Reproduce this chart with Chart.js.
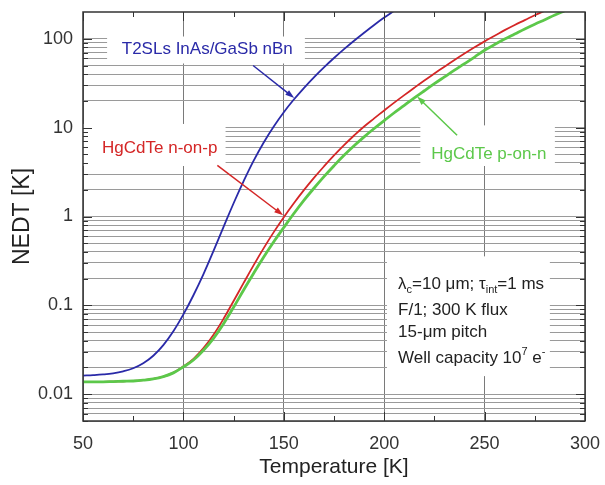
<!DOCTYPE html>
<html>
<head>
<meta charset="utf-8">
<script src="https://cdn.jsdelivr.net/npm/chart.js@4.4.1/dist/chart.umd.min.js"></script>
<style>
html, body { margin: 0; padding: 0; background: #fff; }
</style>
</head>
<body>
<canvas id="myChart" width="605" height="485"></canvas>
<script>
// temperature grid [K]
var temps = [50, 55, 60, 65, 70, 75, 80, 85, 90, 95,
             100, 105, 110, 115, 120, 125, 130, 135, 140, 145,
             150, 155, 160, 165, 170, 175, 180, 185, 190, 195,
             200, 205, 210, 215, 220, 225, 230, 235, 240, 245,
             250, 255, 260, 265, 270, 275, 280, 285, 290];

// NEDT [K]
var t2slNbn = [0.0162, 0.0164, 0.0167, 0.0172, 0.0181, 0.0196, 0.0223, 0.0271, 0.0357, 0.0511,
               0.0791, 0.130, 0.225, 0.410, 0.764, 1.41, 2.50, 4.25, 6.81, 10.3,
               14.9, 20.7, 27.9, 36.8, 47.6, 60.7, 76.4, 95.1, 117, 143,
               173, 207, 248, null, null, null, null, null, null, null,
               null, null, null, null, null, null, null, null, null];
var hgcdteNonP = [0.0138, 0.0138, 0.0138, 0.0139, 0.0140, 0.0141, 0.0144, 0.0149, 0.0158, 0.0175,
                  0.0206, 0.0250, 0.0330, 0.0467, 0.0706, 0.112, 0.179, 0.284, 0.441, 0.667,
                  0.982, 1.41, 1.98, 2.72, 3.66, 4.86, 6.35, 8.15, 10.3, 12.7,
                  15.6, 19.1, 23.2, 28.1, 33.9, 40.6, 48.5, 57.7, 68.2, 80.2,
                  93.5, 108, 125, 143, 162, 184, 207, 232, null];
var hgcdtePonN = [0.0138, 0.0138, 0.0138, 0.0139, 0.0140, 0.0141, 0.0144, 0.0149, 0.0158, 0.0174,
                  0.0203, 0.0243, 0.0313, 0.0426, 0.0622, 0.0953, 0.149, 0.230, 0.350, 0.520,
                  0.753, 1.08, 1.52, 2.08, 2.81, 3.73, 4.88, 6.25, 7.87, 9.77,
                  12.0, 14.7, 17.8, 21.6, 26.0, 31.2, 37.2, 44.3, 52.4, 62.2,
                  74.3, 86.1, 99.1, 113, 129, 146, 164, 185, 207];

// ticks
var xTicks = [50, 100, 150, 200, 250, 300];
var xMinorTicks = [75, 125, 175, 225, 275];
var yMajor = [0.01, 0.1, 1, 10, 100];
var yLabels = ['0.01', '0.1', '1', '10', '100'];
var yMinor = [0.005, 0.006, 0.007, 0.008, 0.009,
              0.02, 0.03, 0.04, 0.05, 0.06, 0.07, 0.08, 0.09,
              0.2, 0.3, 0.4, 0.5, 0.6, 0.7, 0.8, 0.9,
              2, 3, 4, 5, 6, 7, 8, 9,
              20, 30, 40, 50, 60, 70, 80, 90];

var BLUE = '#2a2aa8';
var RED = '#d42626';
var GREEN = '#5cc84a';
var INK = '#333';
var FONT = '"Liberation Sans", Arial, sans-serif';

// white boxes behind the texts (data units)
var boxes = [
    {x0: 62, x1: 160.5, y0: 52.7, y1: 106},
    {x0: 50, x1: 121, y0: 3.7, y1: 11},
    {x0: 218, x1: 285, y0: 3.7, y1: 10.6},
    {x0: 201.4, x1: 282.5, y0: 0.016, y1: 0.356}
];
var curveLabels = [
    {text: 'T2SLs InAs/GaSb nBn', color: BLUE, x: 111.9, y: 75.8, from: [134.7, 50], to: [155.2, 21.5]},
    {text: 'HgCdTe n-on-p', color: RED, x: 88.2, y: 5.83, from: [116.9, 3.76], to: [149.7, 1.03]},
    {text: 'HgCdTe p-on-n', color: GREEN, x: 252.1, y: 4.99, from: [236.3, 8.2], to: [216.4, 22.4]}
];
var noteX = 206.9;
var noteRows = [0.177, 0.0902, 0.051, 0.026];
var noteLines = [
    [['λ', ''], ['c', 'sub'], ['=10 μm; τ', ''], ['int', 'sub'], ['=1 ms', '']],
    [['F/1; 300 K flux', '']],
    [['15-μm pitch', '']],
    [['Well capacity 10', ''], ['7', 'sup'], [' e', ''], ['-', 'sup']]
];

function pts(vals) {
    var out = [];
    for (var i = 0; i < temps.length; i++) {
        if (vals[i] !== null) out.push({x: temps[i], y: vals[i]});
    }
    return out;
}

function drawArrow(ctx, x1, y1, x2, y2, color) {
    var a = Math.atan2(y2 - y1, x2 - x1);
    ctx.strokeStyle = color;
    ctx.fillStyle = color;
    ctx.lineWidth = 1.5;
    ctx.beginPath();
    ctx.moveTo(x1, y1);
    ctx.lineTo(x2 - 6 * Math.cos(a), y2 - 6 * Math.sin(a));
    ctx.stroke();
    ctx.beginPath();
    ctx.moveTo(x2, y2);
    ctx.lineTo(x2 - 9 * Math.cos(a) + 3 * Math.sin(a), y2 - 9 * Math.sin(a) - 3 * Math.cos(a));
    ctx.lineTo(x2 - 9 * Math.cos(a) - 3 * Math.sin(a), y2 - 9 * Math.sin(a) + 3 * Math.cos(a));
    ctx.closePath();
    ctx.fill();
}

var decorPlugin = {
    id: 'decor',
    beforeDatasetsDraw: function(chart) {
        var ctx = chart.ctx, xs = chart.scales.x, ys = chart.scales.y;
        ctx.save();
        ctx.fillStyle = '#fff';
        boxes.forEach(function(b) {
            var l = xs.getPixelForValue(b.x0), r = xs.getPixelForValue(b.x1);
            var t = ys.getPixelForValue(b.y1), btm = ys.getPixelForValue(b.y0);
            ctx.fillRect(l, t, r - l, btm - t);
        });
        ctx.restore();
    },
    afterDatasetsDraw: function(chart) {
        var ctx = chart.ctx, xs = chart.scales.x, ys = chart.scales.y, a = chart.chartArea;
        ctx.save();
        // inward ticks
        ctx.strokeStyle = INK;
        ctx.lineWidth = 1;
        ctx.beginPath();
        yMajor.concat(yMinor).forEach(function(v) {
            var y = Math.round(ys.getPixelForValue(v)) + 0.5;
            var len = yMajor.indexOf(v) >= 0 ? 9 : 5;
            ctx.moveTo(a.left, y); ctx.lineTo(a.left + len, y);
            ctx.moveTo(a.right, y); ctx.lineTo(a.right - len, y);
        });
        xTicks.concat(xMinorTicks).forEach(function(v) {
            var x = Math.round(xs.getPixelForValue(v)) + 0.5;
            var len = xTicks.indexOf(v) >= 0 ? 9 : 5;
            ctx.moveTo(x, a.top); ctx.lineTo(x, a.top + len);
            ctx.moveTo(x, a.bottom); ctx.lineTo(x, a.bottom - len);
        });
        ctx.stroke();
        // frame
        ctx.lineWidth = 1.5;
        ctx.strokeRect(a.left, a.top, a.right - a.left, a.bottom - a.top);

        // curve labels and arrows
        ctx.font = '17px ' + FONT;
        ctx.textAlign = 'center';
        ctx.textBaseline = 'middle';
        curveLabels.forEach(function(c) {
            ctx.fillStyle = c.color;
            ctx.fillText(c.text, xs.getPixelForValue(c.x), ys.getPixelForValue(c.y));
            drawArrow(ctx, xs.getPixelForValue(c.from[0]), ys.getPixelForValue(c.from[1]),
                      xs.getPixelForValue(c.to[0]), ys.getPixelForValue(c.to[1]), c.color);
        });

        // parameter note
        ctx.textAlign = 'left';
        ctx.textBaseline = 'alphabetic';
        ctx.fillStyle = '#222';
        noteLines.forEach(function(runs, i) {
            var x = xs.getPixelForValue(noteX);
            var y = ys.getPixelForValue(noteRows[i]) + 6;
            runs.forEach(function(r) {
                var dy = 0;
                if (r[1] === 'sub') { ctx.font = '11px ' + FONT; dy = 4; }
                else if (r[1] === 'sup') { ctx.font = '11px ' + FONT; dy = -8; }
                else { ctx.font = '17px ' + FONT; }
                ctx.fillText(r[0], x, y + dy);
                x += ctx.measureText(r[0]).width;
            });
        });
        ctx.restore();
    }
};

var ctx = document.getElementById('myChart').getContext('2d');
var myChart = new Chart(ctx, {
    type: 'line',
    data: {
        datasets: [{
            label: 'HgCdTe p-on-n',
            data: pts(hgcdtePonN),
            borderColor: GREEN,
            borderWidth: 2.8,
            order: 0
        }, {
            label: 'HgCdTe n-on-p',
            data: pts(hgcdteNonP),
            borderColor: RED,
            borderWidth: 1.8,
            order: 1
        }, {
            label: 'T2SLs InAs/GaSb nBn',
            data: pts(t2slNbn),
            borderColor: BLUE,
            borderWidth: 1.8,
            order: 2
        }]
    },
    options: {
        responsive: false,
        animation: false,
        layout: {padding: {left: 0, right: 20, top: 12, bottom: 0}},
        elements: {
            point: {radius: 0},
            line: {tension: 0.4, fill: false}
        },
        plugins: {legend: {display: false}, tooltip: {enabled: false}},
        scales: {
            x: {
                type: 'linear',
                min: 50,
                max: 300,
                afterBuildTicks: function(s) { s.ticks = xTicks.map(function(v) { return {value: v}; }); },
                afterFit: function(s) { s.height = 64; s.paddingLeft = 0; s.paddingRight = 0; },
                grid: {color: '#7a7a7a', lineWidth: 1, drawTicks: false},
                border: {display: false},
                ticks: {
                    padding: 12,
                    color: INK,
                    font: {family: FONT, size: 18},
                    callback: function(v) { return String(v); }
                },
                title: {
                    display: true,
                    text: 'Temperature [K]',
                    color: '#222',
                    font: {family: FONT, size: 21},
                    padding: {top: 0, bottom: 5}
                }
            },
            y: {
                type: 'logarithmic',
                min: 0.005,
                max: 200,
                bounds: 'data',
                afterBuildTicks: function(s) {
                    s.ticks = yMinor.concat(yMajor).sort(function(p, q) { return p - q; })
                        .map(function(v) { return {value: v}; });
                },
                afterFit: function(s) { s.width = 83; s.paddingTop = 0; s.paddingBottom = 0; },
                grid: {color: '#9a9a9a', lineWidth: 1, drawTicks: false},
                border: {display: false},
                ticks: {
                    autoSkip: false,
                    padding: 10,
                    color: INK,
                    font: {family: FONT, size: 18},
                    callback: function(v) {
                        var i = yMajor.indexOf(v);
                        return i >= 0 ? yLabels[i] : '';
                    }
                },
                title: {
                    display: true,
                    text: 'NEDT [K]',
                    color: '#222',
                    font: {family: FONT, size: 23},
                    padding: {top: 9, bottom: 0}
                }
            }
        }
    },
    plugins: [decorPlugin]
});
</script>
</body>
</html>
